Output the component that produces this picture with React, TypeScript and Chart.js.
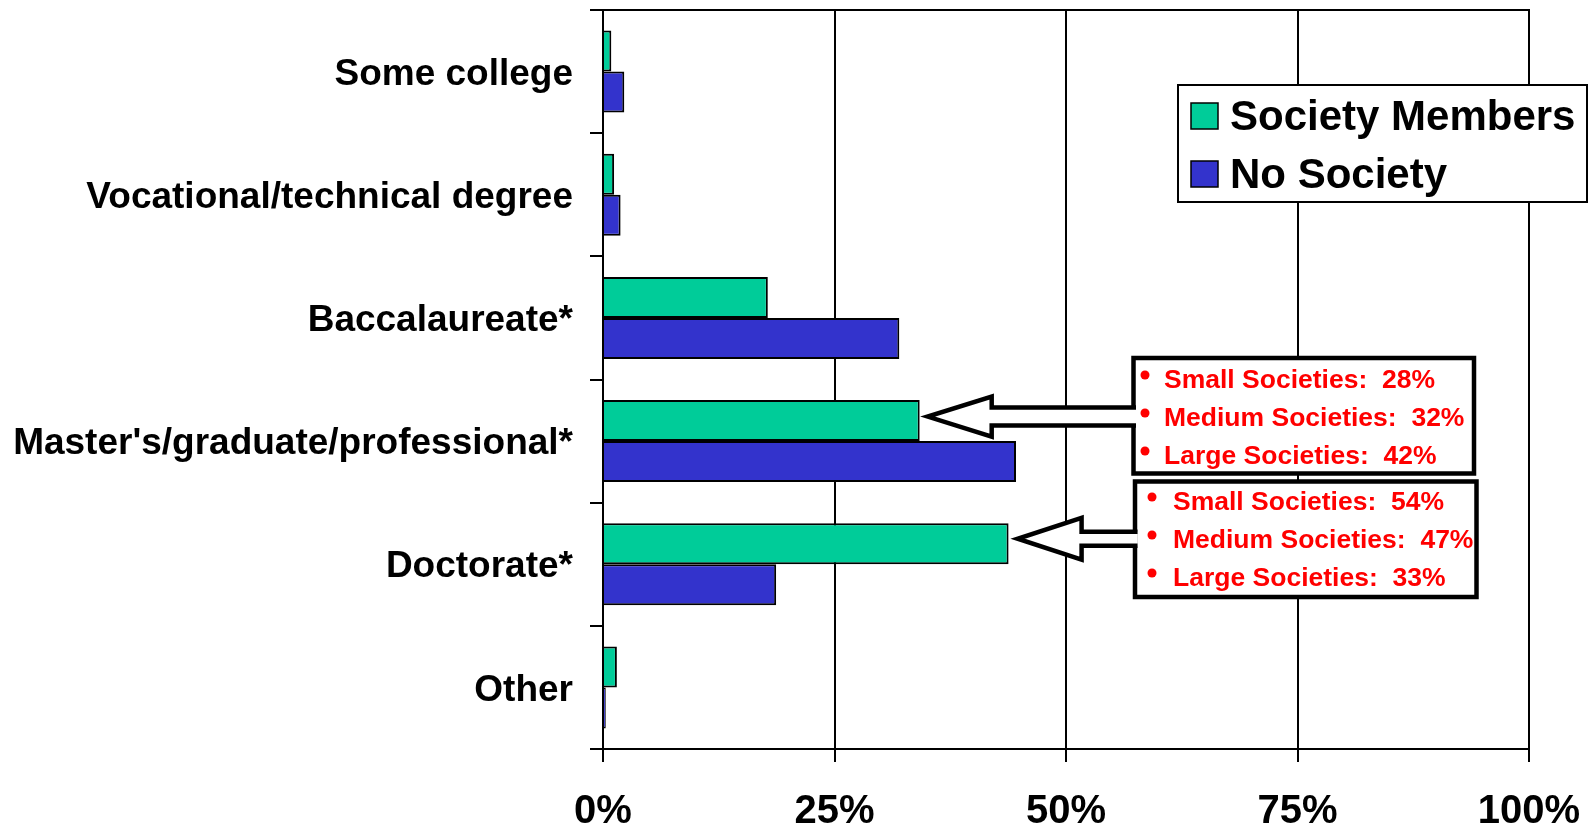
import React, { useEffect, useRef } from "react";
import { Chart, registerables } from "chart.js";
Chart.register(...registerables);

const FONT = '"Liberation Sans", Arial, Helvetica, sans-serif';

const categories = [
  "Some college",
  "Vocational/technical degree",
  "Baccalaureate*",
  "Master's/graduate/professional*",
  "Doctorate*",
  "Other",
];
const societyMembers = [0.9, 1.2, 17.8, 34.2, 43.8, 1.5];
const noSociety = [2.3, 1.9, 32.0, 44.6, 18.7, 0.3];
const seriesLabels = ["Society Members", "No Society"];
const seriesColors = ["#00CC99", "#3333CC"];
const xTickStep = 25;
const mastersBreakdown = ["Small Societies:  28%", "Medium Societies:  32%", "Large Societies:  42%"];
const doctorateBreakdown = ["Small Societies:  54%", "Medium Societies:  47%", "Large Societies:  33%"];

export default function App() {
  const ref = useRef<HTMLCanvasElement>(null);
  useEffect(() => {
    const canvas = ref.current!;
    Chart.defaults.font.family = FONT;

    const drawCallout = (
      ctx: CanvasRenderingContext2D,
      tipX: number,
      tipY: number,
      headLen: number,
      headHalf: number,
      shaftHalf: number,
      box: { l: number; t: number; r: number; b: number },
      lines: string[],
      bulletX: number,
      textX: number,
      firstBaseline: number,
      spacing: number
    ) => {
      ctx.save();
      ctx.fillStyle = "#fff";
      ctx.fillRect(box.l, box.t, box.r - box.l, box.b - box.t);
      ctx.lineWidth = 4.5;
      ctx.strokeStyle = "#000";
      ctx.strokeRect(box.l, box.t, box.r - box.l, box.b - box.t);
      const endX = box.l + 2.5;
      const backX = tipX + headLen;
      ctx.beginPath();
      ctx.moveTo(endX, tipY - shaftHalf);
      ctx.lineTo(backX, tipY - shaftHalf);
      ctx.lineTo(backX, tipY - headHalf);
      ctx.lineTo(tipX, tipY);
      ctx.lineTo(backX, tipY + headHalf);
      ctx.lineTo(backX, tipY + shaftHalf);
      ctx.lineTo(endX, tipY + shaftHalf);
      ctx.fillStyle = "#fff";
      ctx.fill();
      ctx.lineWidth = 4.5;
      ctx.lineJoin = "miter";
      ctx.stroke();
      ctx.fillStyle = "#FF0000";
      ctx.font = `bold 26.5px ${FONT}`;
      ctx.textAlign = "left";
      ctx.textBaseline = "alphabetic";
      lines.forEach((s, i) => {
        const by = firstBaseline + i * spacing;
        ctx.beginPath();
        ctx.arc(bulletX, by - 13, 4.5, 0, Math.PI * 2);
        ctx.fill();
        ctx.fillText(s, textX, by);
      });
      ctx.restore();
    };

    const overlay = {
      id: "overlay",
      beforeDatasetsDraw(chart: any) {
        const { ctx, chartArea } = chart;
        ctx.save();
        ctx.strokeStyle = "#000";
        ctx.lineWidth = 2;
        ctx.beginPath();
        ctx.moveTo(chartArea.left, chartArea.top);
        ctx.lineTo(chartArea.right + 1, chartArea.top);
        ctx.stroke();
        ctx.restore();
      },
      afterDatasetsDraw(chart: any) {
        const ctx: CanvasRenderingContext2D = chart.ctx;
        const xs = chart.scales.x;
        const meta0 = chart.getDatasetMeta(0);
        const mIdx = 3;
        const dIdx = 4;
        const soc = chart.data.datasets[0].data as number[];

        drawCallout(
          ctx,
          xs.getPixelForValue(soc[mIdx]) + 8,
          meta0.data[mIdx].y - 4,
          64, 20, 9,
          { l: 1133.5, t: 358, r: 1474, b: 473.5 },
          mastersBreakdown,
          1145, 1164, 388, 38
        );
        drawCallout(
          ctx,
          xs.getPixelForValue(soc[dIdx]) + 9,
          meta0.data[dIdx].y - 5,
          64, 21, 7,
          { l: 1135, t: 481.5, r: 1476.5, b: 597 },
          doctorateBreakdown,
          1152, 1173, 510, 38
        );

        ctx.save();
        ctx.fillStyle = "#fff";
        ctx.fillRect(1178, 85, 409, 117);
        ctx.strokeStyle = "#000";
        ctx.lineWidth = 2;
        ctx.strokeRect(1178, 85, 409, 117);
        chart.data.datasets.forEach((ds: any, i: number) => {
          const sy = 103 + i * 58;
          ctx.fillStyle = ds.backgroundColor;
          ctx.fillRect(1191, sy, 27, 26);
          ctx.lineWidth = 1.5;
          ctx.strokeStyle = "#000";
          ctx.strokeRect(1191, sy, 27, 26);
          ctx.fillStyle = "#000";
          ctx.font = `bold 42px ${FONT}`;
          ctx.textAlign = "left";
          ctx.textBaseline = "alphabetic";
          ctx.fillText(ds.label, 1230, 130 + i * 58);
        });
        ctx.restore();
      },
    };

    const mk = (i: number, data: number[]) => ({
      label: seriesLabels[i],
      data,
      backgroundColor: seriesColors[i],
      borderColor: "#000",
      borderWidth: 2,
      categoryPercentage: 0.666,
      barPercentage: 1,
    });

    const chart = new Chart(canvas, {
      type: "bar",
      data: {
        labels: categories,
        datasets: [mk(0, societyMembers), mk(1, noSociety)],
      },
      options: {
        indexAxis: "y",
        responsive: false,
        animation: false,
        layout: { padding: { top: 10, right: 60, left: 0, bottom: 0 } },
        plugins: { legend: { display: false }, tooltip: { enabled: false } },
        scales: {
          x: {
            min: 0,
            max: 100,
            ticks: {
              stepSize: xTickStep,
              callback: (v: any) => v + "%",
              font: { family: FONT, size: 40, weight: "bold" },
              color: "#000",
              padding: 26,
              maxRotation: 0,
            },
            grid: { color: "#000", lineWidth: 2, tickLength: 13 },
            border: { color: "#000", width: 2 },
            afterFit: (s: any) => {
              s.height = 79;
              s.paddingLeft = 0;
              s.paddingRight = 0;
            },
          },
          y: {
            ticks: {
              font: { family: FONT, size: 37, weight: "bold" },
              color: "#000",
              padding: 17,
              autoSkip: false,
              labelOffset: 3,
            },
            grid: { color: "#000", lineWidth: 2, tickLength: 13, drawOnChartArea: false, offset: true },
            border: { color: "#000", width: 2 },
            afterFit: (s: any) => {
              s.width = 603;
              s.paddingTop = 0;
              s.paddingBottom = 0;
            },
          },
        },
      } as any,
      plugins: [overlay],
    });
    return () => chart.destroy();
  }, []);
  return (
    <div style={{ position: "absolute", left: 0, top: 0, width: 1589, height: 828, background: "#fff" }}>
      <canvas ref={ref} width={1589} height={828} style={{ display: "block", width: 1589, height: 828 }} />
    </div>
  );
}
